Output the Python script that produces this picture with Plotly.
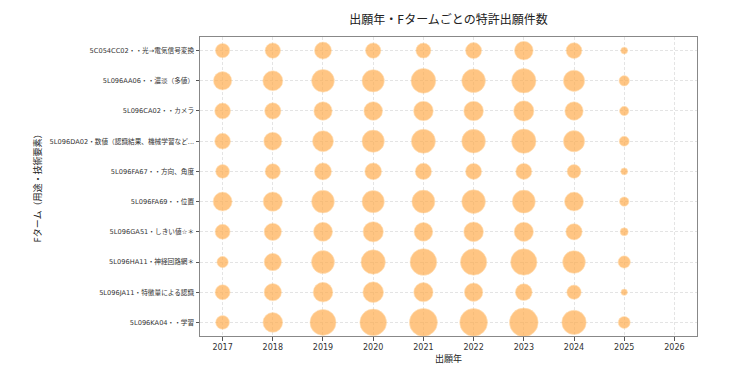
import plotly.graph_objects as go

years = [2017, 2018, 2019, 2020, 2021, 2022, 2023, 2024, 2025]
fterms = [
    "5C054CC02・・光→電気信号変換",
    "5L096AA06・・濃淡（多値）",
    "5L096CA02・・カメラ",
    "5L096DA02・数値（認識結果、機械学習など...",
    "5L096FA67・・方向、角度",
    "5L096FA69・・位置",
    "5L096GA51・しきい値☆＊",
    "5L096HA11・神経回路網＊",
    "5L096JA11・特徴量による認識",
    "5L096KA04・・学習",
]
counts_cc02 = [51, 59, 72, 59, 56, 64, 87, 62, 12]
counts_aa06 = [84, 100, 129, 124, 153, 140, 148, 113, 27]
counts_ca02 = [62, 66, 84, 87, 97, 97, 103, 84, 22]
counts_da02 = [62, 81, 110, 124, 144, 140, 148, 113, 25]
counts_fa67 = [47, 59, 72, 70, 66, 64, 64, 47, 12]
counts_fa69 = [90, 93, 129, 124, 132, 140, 132, 90, 22]
counts_ga51 = [56, 75, 90, 103, 87, 97, 93, 66, 16]
counts_ha11 = [32, 75, 132, 148, 178, 173, 173, 129, 38]
counts_ja11 = [56, 75, 97, 107, 93, 84, 70, 51, 10]
counts_ka04 = [47, 97, 169, 178, 196, 192, 206, 148, 36]
x_ticks = [2017, 2018, 2019, 2020, 2021, 2022, 2023, 2024, 2025, 2026]

all_counts = [counts_cc02, counts_aa06, counts_ca02, counts_da02, counts_fa67,
              counts_fa69, counts_ga51, counts_ha11, counts_ja11, counts_ka04]

xs, ys, ss = [], [], []
for term, row in zip(fterms, all_counts):
    for yr, c in zip(years, row):
        xs.append(yr)
        ys.append(term)
        ss.append(c)

FONT = "DejaVu Sans, Noto Sans CJK JP"

fig = go.Figure()
fig.add_trace(go.Scatter(
    x=xs, y=ys, mode="markers",
    marker=dict(size=ss, sizemode="area", sizeref=0.5,
                color="#FFAD50",
                line=dict(color="#FFD6A0", width=0.6)),
    showlegend=False,
))

# page body has an 8px margin: figure is 725x368 and offset by 8px
PLOT_W = 725 - 192 - 36

fig.update_layout(
    width=725, height=368,
    margin=dict(l=192, r=36, t=29, b=40),
    paper_bgcolor="white", plot_bgcolor="white",
    font=dict(family=FONT, color="#333"),
    title=dict(text="出願年・Fタームごとの特許出願件数", x=0.5, xref="paper",
               xanchor="center", yanchor="middle",
               font=dict(size=12, color="#222", family=FONT)),
    xaxis=dict(range=[2016.55, 2026.45], tickvals=x_ticks,
               ticktext=[str(t) for t in x_ticks],
               tickfont=dict(size=8, color="#333"),
               ticks="outside", ticklen=3.5, tickcolor="#555",
               showgrid=True, gridcolor="#e4e4e4", griddash="3px,2px", gridwidth=0.7,
               showline=True, mirror=True, linecolor="#888", linewidth=1,
               zeroline=False,
               title=dict(text="出願年", font=dict(size=9, color="#222"), standoff=4)),
    yaxis=dict(type="category", categoryorder="array", categoryarray=fterms,
               range=[9.45, -0.45],
               tickfont=dict(size=6.65, color="#333"),
               ticks="outside", ticklen=3.5, tickcolor="#555",
               showgrid=True, gridcolor="#e4e4e4", griddash="3px,2px", gridwidth=0.7,
               showline=True, mirror=True, linecolor="#888", linewidth=1,
               zeroline=False),
    annotations=[dict(text="Fターム（用途・技術要素）", textangle=-90,
                      x=(29 - 192) / PLOT_W, xref="paper", y=0.5, yref="paper",
                      showarrow=False, font=dict(size=9, color="#222"),
                      xanchor="center", yanchor="middle")],
)
fig.layout.title.y = 1 - 12 / 368

fig.write_html("out.html")
